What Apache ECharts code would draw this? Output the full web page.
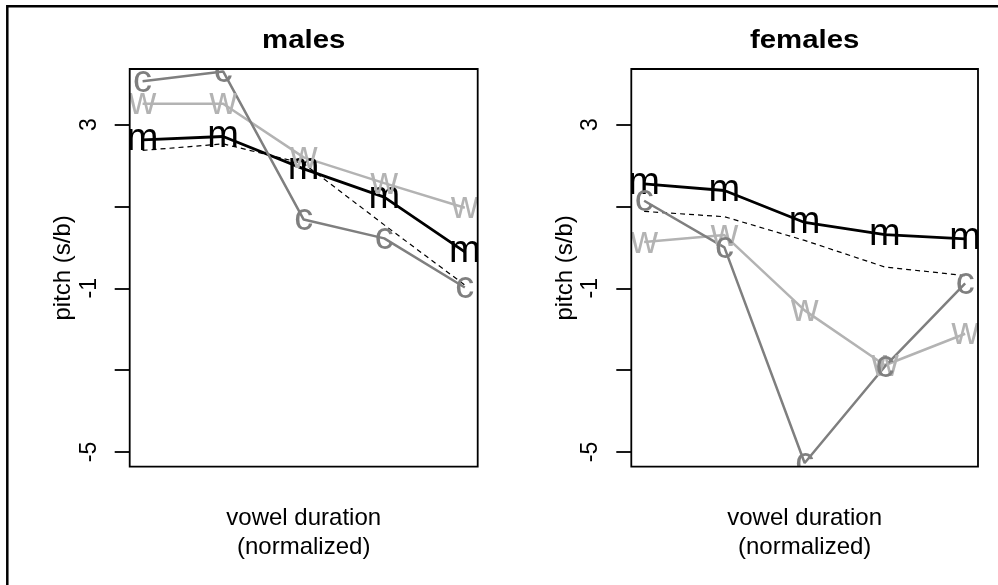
<!DOCTYPE html>
<html>
<head>
<meta charset="utf-8">
<script src="https://cdn.jsdelivr.net/npm/echarts@6/dist/echarts.min.js"></script>
<style>
  html, body { margin: 0; padding: 0; background: #fff; }
  #chart { width: 998px; height: 585px; }
</style>
</head>
<body>
<div id="chart"></div>
<script>
// ---- data ----
const positions = [1, 2, 3, 4, 5];            // vowel duration bins (normalized)
const panelTitles = ['males', 'females'];
const yTickValues = [3, 1, -1, -3, -5];
const yLabelValues = [3, -1, -5];

const malesM = [2.63, 2.71, 1.92, 1.23, -0.11];
const malesW = [3.51, 3.51, 2.20, 1.57, 0.97];
const malesC = [4.06, 4.30, 0.68, 0.22, -0.98];
const malesDash = [2.37, 2.53, 2.05, 0.55, -0.92];

const femalesM = [1.55, 1.39, 0.61, 0.31, 0.21];
const femalesW = [0.13, 0.30, -1.54, -2.88, -2.11];
const femalesC = [1.14, 0.00, -5.27, -2.91, -0.88];
const femalesDash = [0.88, 0.75, 0.17, -0.48, -0.69];

const panels = [
  { m: malesM, w: malesW, c: malesC, d: malesDash },
  { m: femalesM, w: femalesW, c: femalesC, d: femalesDash }
];

// ---- layout / style ----
const FONT = '"Liberation Sans", Arial, Helvetica, sans-serif';
const boxes = [
  { left: 129.7, top: 69, width: 348, height: 397.7 },
  { left: 631.3, top: 69, width: 346.7, height: 397.7 }
];
const colors = { m: '#000000', w: '#b3b3b3', c: '#7f7f7f' };

function pts(arr) { return positions.map((x, i) => [x, arr[i]]); }

const grid = [], xAxis = [], yAxis = [], series = [], graphic = [];

boxes.forEach((b, gi) => {
  grid.push({ left: b.left, top: b.top, width: b.width, height: b.height, show: false });
  xAxis.push({
    type: 'value', gridIndex: gi, min: 0.84, max: 5.16,
    axisLine: { show: false }, axisTick: { show: false }, axisLabel: { show: false },
    splitLine: { show: false },
    name: 'vowel duration\n(normalized)', nameLocation: 'middle', nameGap: 37,
    nameTextStyle: { fontFamily: FONT, fontSize: 24, color: '#000', lineHeight: 29 },
    z: 10
  });
  yAxis.push({
    type: 'value', gridIndex: gi, min: -5.36, max: 4.36,
    axisLine: { show: false },
    axisTick: { show: true, length: 15, customValues: yTickValues, lineStyle: { color: '#000', width: 1.8 } },
    axisLabel: { show: true, customValues: yLabelValues, rotate: 90, margin: 29,
      fontFamily: FONT, fontSize: 23, color: '#000' },
    splitLine: { show: false },
    name: 'pitch (s/b)', nameLocation: 'middle', nameGap: 54, nameRotate: 90,
    nameTextStyle: { fontFamily: FONT, fontSize: 24, color: '#000' },
    z: 10
  });

  const p = panels[gi];
  series.push({
    type: 'line', xAxisIndex: gi, yAxisIndex: gi, data: pts(p.d),
    symbol: 'none', lineStyle: { color: '#000', width: 1.2, type: [5, 4] },
    z: 2, silent: true
  });
  ['m', 'w', 'c'].forEach(k => {
    series.push({
      type: 'line', xAxisIndex: gi, yAxisIndex: gi, data: pts(p[k]),
      symbol: 'circle', symbolSize: 1,
      itemStyle: { color: 'rgba(0,0,0,0)' },
      lineStyle: { color: colors[k], width: k === 'm' ? 2.8 : 2.5 },
      label: { show: true, position: 'inside', formatter: k, color: colors[k],
        fontFamily: FONT, fontSize: 38, offset: [0, -3] },
      labelLayout: { hideOverlap: false },
      z: 2, silent: true
    });
  });

  // white masks that clip letters overflowing the plot box (like R's clipping)
  const pad = 22;
  const maskStyle = { fill: '#fff' };
  graphic.push(
    { type: 'rect', z: 3, silent: true, shape: { x: b.left - pad, y: b.top - pad, width: b.width + 2 * pad, height: pad }, style: maskStyle },
    { type: 'rect', z: 3, silent: true, shape: { x: b.left - pad, y: b.top + b.height, width: b.width + 2 * pad, height: pad }, style: maskStyle },
    { type: 'rect', z: 3, silent: true, shape: { x: b.left - pad, y: b.top, width: pad, height: b.height }, style: maskStyle },
    { type: 'rect', z: 3, silent: true, shape: { x: b.left + b.width, y: b.top, width: pad, height: b.height }, style: maskStyle },
    { type: 'rect', z: 12, silent: true, shape: { x: b.left, y: b.top, width: b.width, height: b.height },
      style: { fill: 'none', stroke: '#000', lineWidth: 1.8 } },
    { type: 'text', z: 12, silent: true, x: b.left + b.width / 2, y: 41, scaleX: 1.13,
      style: { text: panelTitles[gi], font: 'bold 26px ' + FONT, fill: '#000', align: 'center', verticalAlign: 'middle' } }
  );
});

// outer frame (right and bottom edges fall outside the picture)
graphic.push({ type: 'rect', z: 12, silent: true, shape: { x: 7.3, y: 6.2, width: 2000, height: 2000 },
  style: { fill: 'none', stroke: '#000', lineWidth: 2.5 } });

const chart = echarts.init(document.getElementById('chart'), null, { renderer: 'canvas' });
chart.setOption({
  animation: false,
  backgroundColor: '#fff',
  grid, xAxis, yAxis, series, graphic
});
</script>
</body>
</html>
